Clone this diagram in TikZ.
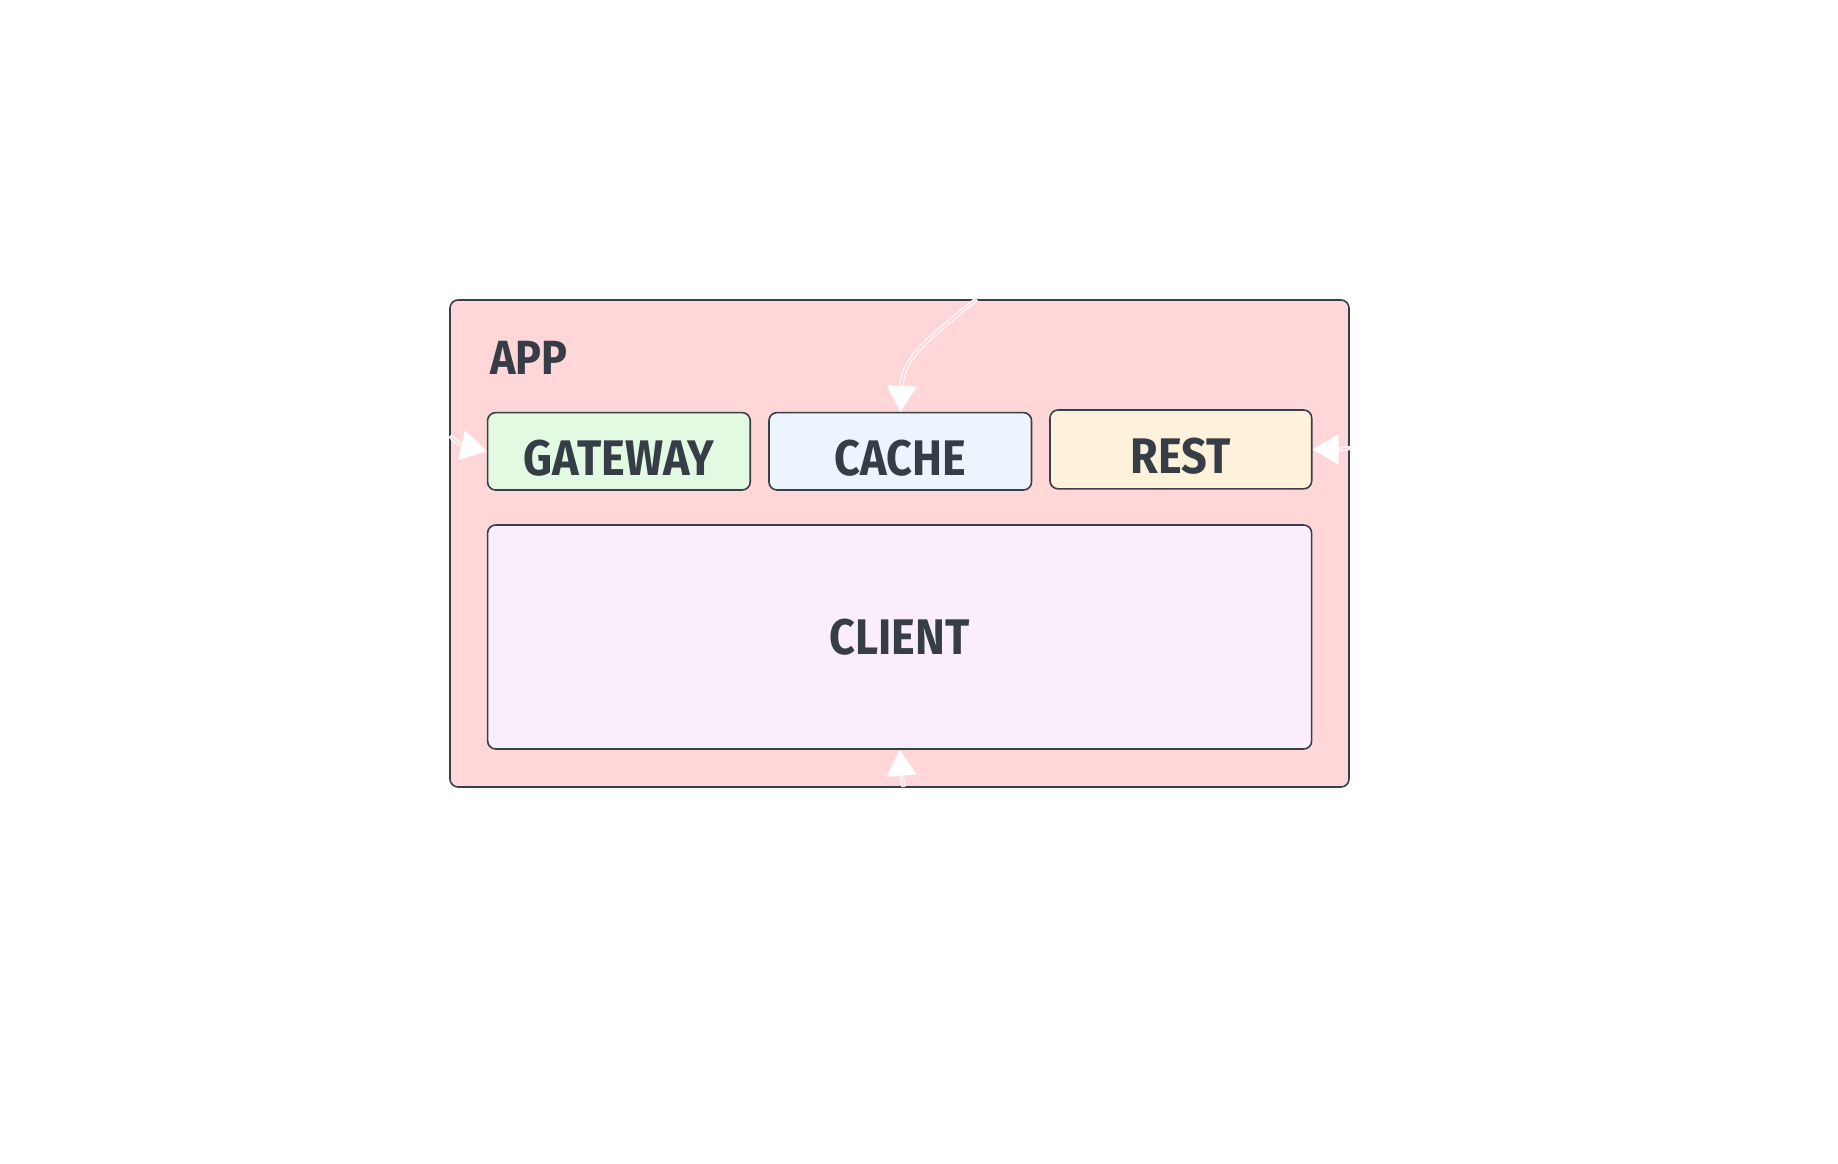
\documentclass[tikz,border=0pt]{standalone}
\usepackage{fontspec}
\setmainfont{Fira Sans}
\newfontfamily\handfont{Fira Sans}[FakeStretch=0.9]
\usetikzlibrary{arrows.meta,calc}
\definecolor{appfill}{HTML}{FFD7D9}
\definecolor{gwfill}{HTML}{E2F9E2}
\definecolor{cachefill}{HTML}{ECF4FE}
\definecolor{restfill}{HTML}{FFF2DA}
\definecolor{clientfill}{HTML}{FAEEFD}
\definecolor{edge}{HTML}{3A3E48}
\definecolor{ink}{HTML}{363D47}
\begin{document}
\begin{tikzpicture}[x=0.5pt,y=-0.5pt,
  box/.style={draw=edge, line width=0.8pt, rounded corners=4pt, inner sep=0pt,
    text=ink, font=\handfont\fontsize{25}{30}\selectfont\bfseries},
  lowtext/.style={text height=24pt, text depth=0pt},
  wire/.style={draw=white, line width=0.6pt, double=appfill, double distance=0.9pt},
  tipline/.style={draw=white, fill=white, line width=0.5pt,
    -{Triangle[length=13pt,width=15pt]}}]
\useasboundingbox (0,0) rectangle (1838,1163);
% container
\node[box, fill=appfill, minimum width=449.5pt, minimum height=243.5pt] (app) at (899.5,543.5) {};
\node[anchor=west, text=ink, font=\handfont\fontsize{24}{28}\selectfont\bfseries, inner sep=0pt] (applabel) at (490,358) {APP};
% inner boxes
\node[box, lowtext, fill=gwfill, minimum width=131.3pt, minimum height=38.7pt] (gateway) at (618.9,451.3) {GATEWAY};
\node[box, lowtext, fill=cachefill, minimum width=131.25pt, minimum height=38.7pt] (cache) at (900.25,451.3) {CACHE};
\node[box, lowtext, fill=restfill, minimum width=130.85pt, minimum height=39.4pt] (rest) at (1180.85,449.4) {REST};
\node[box, fill=clientfill, minimum width=412pt, minimum height=112pt] (client) at (899.65,637) {CLIENT};
% connector ends and arrow bases
\coordinate (ctop) at (976.5,299);
\coordinate (cleft) at (450,436);
\coordinate (cright) at (1350,448);
\coordinate (cbot) at (903.5,787);
\coordinate (btop) at ($(cache.north)+(1.5,-26)$);
\coordinate (bleft) at ($(gateway.west)+(-27,-6.5)$);
\coordinate (bright) at ($(rest.east)+(28,0)$);
\coordinate (bbot) at ($(client.south)+(2,27)$);
% connectors
\draw[wire] (ctop) .. controls (940,330) and (902,355) .. (btop);
\draw[tipline] (btop) -- (cache.north);
\draw[wire] (cleft) -- (bleft);
\draw[tipline] (bleft) -- (gateway.west);
\draw[wire] (cright) -- (bright);
\draw[tipline] (bright) -- (rest.east);
\draw[wire] (cbot) -- (bbot);
\draw[tipline] (bbot) -- (client.south);
\end{tikzpicture}
\end{document}
